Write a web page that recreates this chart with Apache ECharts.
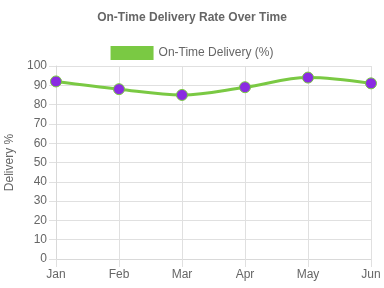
<!DOCTYPE html>
<html><head><meta charset="utf-8">
<script src="https://cdn.jsdelivr.net/npm/echarts@6/dist/echarts.min.js"></script>
<style>html,body{margin:0;padding:0;background:#fff}#c{width:384px;height:288px}</style>
</head><body><div id="c"></div>
<script>
const categories = ['Jan','Feb','Mar','Apr','May','Jun'];
const deliveryRate = [92, 88, 85, 89, 94, 91];
const seriesName = 'On-Time Delivery (%)';
const titleText = 'On-Time Delivery Rate Over Time';
const yAxisName = 'Delivery %';

const chart = echarts.init(document.getElementById('c'), null, {renderer:'canvas'});
chart.setOption({
  animation: false,
  title: {text: titleText, left: 'center', top: 7,
    textStyle: {fontFamily: 'Arial, Liberation Sans', fontSize: 12, fontWeight: 'bold', color: '#666'}},
  legend: {top: 41, left: 'center', icon: 'rect', itemWidth: 43, itemHeight: 14, itemGap: 10,
    textStyle: {fontFamily: 'Arial, Liberation Sans', fontSize: 12, color: '#666'},
    data: [{name: seriesName, itemStyle: {color: '#7ac943', borderWidth: 0}}]},
  grid: {left: 56, right: 13, top: 66, bottom: 29, containLabel: false, outerBoundsMode: 'none'},
  xAxis: {type: 'category', data: categories, boundaryGap: false,
    axisLine: {show: true, lineStyle: {color: '#d9d9d9'}},
    axisTick: {show: true, length: 8, lineStyle: {color: '#e0e0e0'}},
    splitLine: {show: true, lineStyle: {color: '#e0e0e0'}},
    axisLabel: {fontFamily: 'Arial, Liberation Sans', fontSize: 12, color: '#666', margin: 10}},
  yAxis: {type: 'value', min: 0, max: 100, interval: 10,
    name: yAxisName, nameLocation: 'middle', nameGap: 38, nameRotate: 90,
    nameTextStyle: {fontFamily: 'Arial, Liberation Sans', fontSize: 12, color: '#666'},
    axisLine: {show: true, lineStyle: {color: '#d9d9d9'}},
    axisTick: {show: true, length: 7, lineStyle: {color: '#e0e0e0'}},
    splitLine: {show: true, lineStyle: {color: '#e0e0e0'}},
    axisLabel: {fontFamily: 'Arial, Liberation Sans', fontSize: 12, color: '#666', margin: 9}},
  series: [{
    name: seriesName, type: 'line', data: deliveryRate, smooth: 0.35,
    symbol: 'circle', symbolSize: 11,
    lineStyle: {color: '#7ac943', width: 3},
    itemStyle: {color: '#8a2be2', borderColor: '#7ac943', borderWidth: 1}
  }]
});
</script></body></html>
